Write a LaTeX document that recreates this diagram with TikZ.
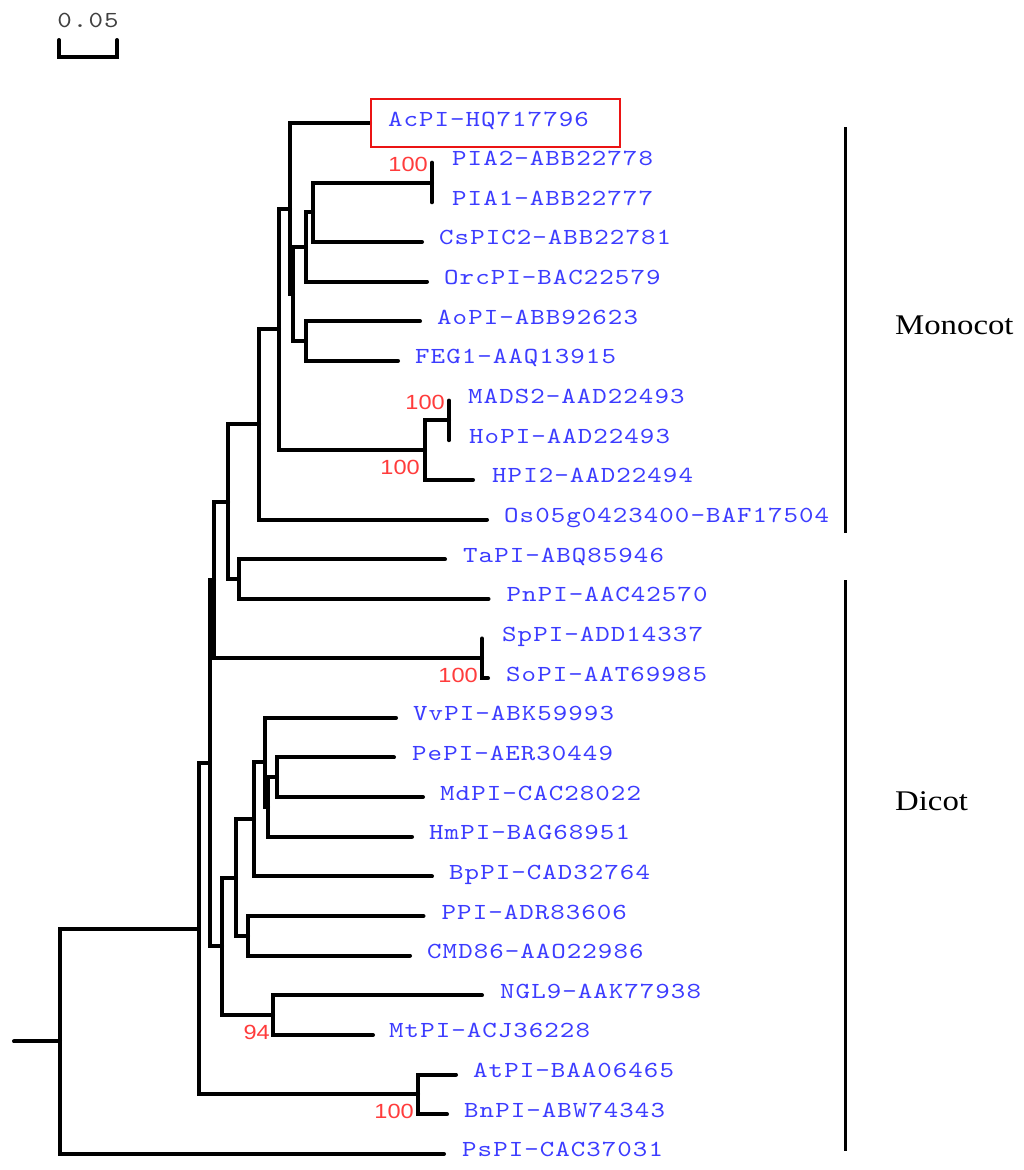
\documentclass[tikz,border=0pt]{standalone}
\usepackage{fontspec}
\usepackage{tikz}
\usetikzlibrary{positioning}
\newfontfamily\leaffont{lmmono10-regular.otf}[FakeStretch=1.2,LetterSpace=4.5]
\newfontfamily\bootfont{Liberation Sans}[FakeStretch=1.15]
\newfontfamily\cladefont{Liberation Serif}[FakeStretch=1.15]
\definecolor{leafblue}{RGB}{60,60,255}
\definecolor{bootred}{RGB}{255,60,60}
\definecolor{boxred}{RGB}{235,20,20}

\begin{document}
\begin{tikzpicture}[x=1pt,y=-1pt,
 branch/.style={line width=4pt,line cap=round},
 leaf/.style={font=\leaffont\fontsize{23}{23}\selectfont,text=leafblue,inner sep=0pt,text height=6pt,text depth=0pt},
 hilite/.style={draw=boxred,line width=2pt,inner xsep=17pt,inner ysep=21pt,text width=215pt,align=left},
 boot/.style={font=\bootfont\fontsize{20.5}{20.5}\selectfont,text=bootred,inner sep=0pt,text height=14.3pt,text depth=0pt},
 clade/.style={line width=3pt},
 cladelab/.style={font=\cladefont\fontsize{28.5}{28.5}\selectfont,inner sep=0pt},
 scalelab/.style={font=\leaffont\fontsize{23}{23}\selectfont,text=black!75,inner sep=0pt,text depth=0pt}]
 \useasboundingbox (0,0) rectangle (1024,1170);

 \coordinate (t0) at (370,123);
 \coordinate (t1) at (432,162.65);
 \coordinate (t2) at (432,202.3);
 \coordinate (t3) at (422,241.95);
 \coordinate (t4) at (427,281.6);
 \coordinate (t5) at (420,321.25);
 \coordinate (t6) at (398,360.9);
 \coordinate (t7) at (449,400.55);
 \coordinate (t8) at (449,440.2);
 \coordinate (t9) at (473,479.85);
 \coordinate (t10) at (487,519.5);
 \coordinate (t11) at (445,559.15);
 \coordinate (t12) at (488.5,598.8);
 \coordinate (t13) at (482,638.45);
 \coordinate (t14) at (488,678.1);
 \coordinate (t15) at (396,717.75);
 \coordinate (t16) at (394,757.4);
 \coordinate (t17) at (423,797.05);
 \coordinate (t18) at (412,836.7);
 \coordinate (t19) at (432,876.35);
 \coordinate (t20) at (423.5,916);
 \coordinate (t21) at (410,955.65);
 \coordinate (t22) at (482,995.3);
 \coordinate (t23) at (373,1034.95);
 \coordinate (t24) at (456,1074.6);
 \coordinate (t25) at (447,1114.25);
 \coordinate (t26) at (444,1153.9);

 \coordinate (pia) at (432,182.5);
 \coordinate (cs) at (313,212.2);
 \coordinate (orc) at (306,246.9);
 \coordinate (ao) at (306,341.1);
 \coordinate (orch) at (293,294);
 \coordinate (ac) at (290,208.5);
 \coordinate (mads) at (449,420.4);
 \coordinate (hpi) at (425,450.1);
 \coordinate (mono1) at (279,329.3);
 \coordinate (mono2) at (259,424.4);
 \coordinate (ta) at (239,579);
 \coordinate (mono3) at (228,501.7);
 \coordinate (sp) at (482,658.3);
 \coordinate (mono4) at (214,580);
 \coordinate (pe) at (277,777.2);
 \coordinate (hm) at (268,807);
 \coordinate (vv) at (265,762.4);
 \coordinate (bp) at (254,819.4);
 \coordinate (ppi) at (248,935.8);
 \coordinate (ros) at (236,877.6);
 \coordinate (ngl) at (273,1015.1);
 \coordinate (dic) at (222,946.4);
 \coordinate (core) at (209.5,763.2);
 \coordinate (at) at (418,1094.4);
 \coordinate (ang) at (198.5,928.8);
 \coordinate (root) at (60,1041.4);
 \coordinate (stub) at (14,1041.4);

 \draw[branch] (t1) -| (pia) |- (t2);
 \draw[branch] (pia) -| (cs) |- (t3);
 \draw[branch] (cs) -| (orc) |- (t4);
 \draw[branch] (t5) -| (ao) |- (t6);
 \draw[branch] (orc) -| (orch) |- (ao);
 \draw[branch] (t0) -| (ac) |- (orch);
 \draw[branch] (t7) -| (mads) |- (t8);
 \draw[branch] (mads) -| (hpi) |- (t9);
 \draw[branch] (ac) -| (mono1) |- (hpi);
 \draw[branch] (mono1) -| (mono2) |- (t10);
 \draw[branch] (t11) -| (ta) |- (t12);
 \draw[branch] (mono2) -| (mono3) |- (ta);
 \draw[branch] (t13) -| (sp) |- (t14);
 \draw[branch] (mono3) -| (mono4) |- (sp);
 \draw[branch] (t16) -| (pe) |- (t17);
 \draw[branch] (pe) -| (hm) |- (t18);
 \draw[branch] (t15) -| (vv) |- (hm);
 \draw[branch] (vv) -| (bp) |- (t19);
 \draw[branch] (t20) -| (ppi) |- (t21);
 \draw[branch] (bp) -| (ros) |- (ppi);
 \draw[branch] (t22) -| (ngl) |- (t23);
 \draw[branch] (ros) -| (dic) |- (ngl);
 \draw[branch] (mono4) -| (core) |- (dic);
 \draw[branch] (t24) -| (at) |- (t25);
 \draw[branch] (core) -| (ang) |- (at);
 \draw[branch] (ang) -| (root) |- (t26);
 \draw[branch] (stub) -- (root);

 \node[leaf,hilite,right=0pt of t0] (l0) {AcPI-HQ717796};
 \node[leaf,right=20pt of t1] (l1) {PIA2-ABB22778};
 \node[leaf,right=20pt of t2] (l2) {PIA1-ABB22777};
 \node[leaf,right=17pt of t3] (l3) {CsPIC2-ABB22781};
 \node[leaf,right=17pt of t4] (l4) {OrcPI-BAC22579};
 \node[leaf,right=17pt of t5] (l5) {AoPI-ABB92623};
 \node[leaf,right=17pt of t6] (l6) {FEG1-AAQ13915};
 \node[leaf,right=19pt of t7] (l7) {MADS2-AAD22493};
 \node[leaf,right=20pt of t8] (l8) {HoPI-AAD22493};
 \node[leaf,right=19pt of t9] (l9) {HPI2-AAD22494};
 \node[leaf,right=17pt of t10] (l10) {Os05g0423400-BAF17504};
 \node[leaf,right=18pt of t11] (l11) {TaPI-ABQ85946};
 \node[leaf,right=18pt of t12] (l12) {PnPI-AAC42570};
 \node[leaf,right=20pt of t13] (l13) {SpPI-ADD14337};
 \node[leaf,right=18pt of t14] (l14) {SoPI-AAT69985};
 \node[leaf,right=17pt of t15] (l15) {VvPI-ABK59993};
 \node[leaf,right=18pt of t16] (l16) {PePI-AER30449};
 \node[leaf,right=17pt of t17] (l17) {MdPI-CAC28022};
 \node[leaf,right=17pt of t18] (l18) {HmPI-BAG68951};
 \node[leaf,right=17pt of t19] (l19) {BpPI-CAD32764};
 \node[leaf,right=18pt of t20] (l20) {PPI-ADR83606};
 \node[leaf,right=17pt of t21] (l21) {CMD86-AAO22986};
 \node[leaf,right=18pt of t22] (l22) {NGL9-AAK77938};
 \node[leaf,right=16pt of t23] (l23) {MtPI-ACJ36228};
 \node[leaf,right=17pt of t24] (l24) {AtPI-BAA06465};
 \node[leaf,right=17pt of t25] (l25) {BnPI-ABW74343};
 \node[leaf,right=18pt of t26] (l26) {PsPI-CAC37031};

 \node[boot,above left=11pt and 4pt of pia] (b1) {100};
 \node[boot,above left=11pt and 4pt of mads] (b2) {100};
 \node[boot,below left=10pt and 5pt of hpi] (b3) {100};
 \node[boot,below left=10pt and 4pt of sp] (b4) {100};
 \node[boot,below left=10pt and 3pt of ngl] (b5) {94};
 \node[boot,below left=10pt and 4pt of at] (b6) {100};

 \coordinate (mtop) at (845,127);
 \coordinate (mbot) at (845,533);
 \coordinate (mmid) at (845,325);
 \coordinate (dtop) at (845,580);
 \coordinate (dbot) at (845,1151);
 \coordinate (dmid) at (845,801);
 \draw[clade] (mtop) -- (mbot);
 \draw[clade] (dtop) -- (dbot);
 \node[cladelab,right=50pt of mmid] (mono) {Monocot};
 \node[cladelab,right=50pt of dmid] (dico) {Dicot};

 \coordinate (sbl) at (59,40);
 \coordinate (sbr) at (117,40);
 \coordinate (sbm) at (88,57);
 \coordinate (sbt) at (88,40);
 \draw[branch] (sbl) |- (sbm) -| (sbr);
 \node[scalelab,above=12.7pt of sbt] (sblab) {0.05};
\end{tikzpicture}
\end{document}
